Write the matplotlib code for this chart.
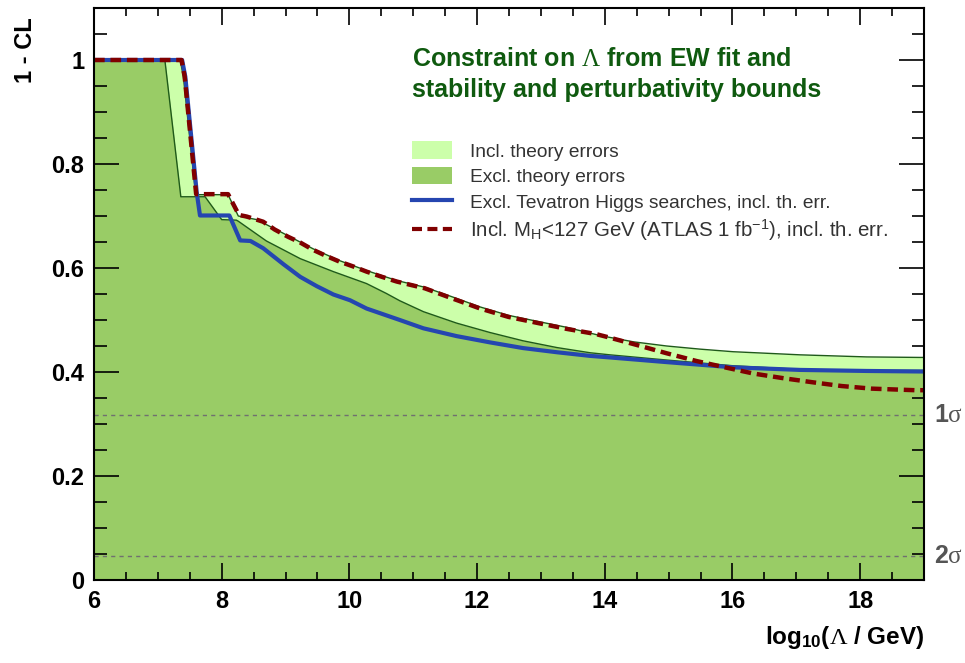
import numpy as np
import matplotlib
matplotlib.use('Agg')
import matplotlib.pyplot as plt
from matplotlib.patches import Patch
from matplotlib.lines import Line2D

plt.rcParams['font.family'] = ['Liberation Sans', 'DejaVu Sans']
plt.rcParams['mathtext.fontset'] = 'custom'
plt.rcParams['mathtext.rm'] = 'Liberation Serif'
plt.rcParams['mathtext.it'] = 'Liberation Serif:italic'
plt.rcParams['mathtext.bf'] = 'Liberation Serif:bold'

# --- data: x = log10(Lambda/GeV), y = 1 - CL ---
# incl. theory errors (light band upper edge)
x_incl = [6, 7.35, 7.40, 7.58, 7.62, 8.10, 8.26, 8.55, 9.04, 9.43, 9.85, 10.27,
          10.74, 11.18, 11.60, 12.05, 12.49, 12.96, 13.40, 13.93, 14.45, 14.97,
          15.49, 16.01, 16.54, 17.06, 17.58, 18.10, 18.94, 19]
y_incl = [1.0, 1.0, 0.968, 0.756, 0.741, 0.741, 0.700, 0.693, 0.662, 0.637, 0.614,
          0.595, 0.576, 0.563, 0.545, 0.525, 0.509, 0.497, 0.486, 0.470, 0.458,
          0.450, 0.444, 0.439, 0.436, 0.433, 0.431, 0.429, 0.428, 0.428]

# excl. theory errors (dark area upper edge)
x_excl = [6, 7.11, 7.36, 7.74, 8.0, 8.23, 8.26, 8.70, 9.23, 9.75, 10.27, 10.58,
          10.79, 11.16, 11.68, 12.20, 12.72, 13.25, 13.77, 14.08, 14.97, 16.01,
          17.06, 18.10, 18.94, 19]
y_excl = [1.0, 1.0, 0.737, 0.737, 0.693, 0.692, 0.690, 0.652, 0.618, 0.593, 0.570,
          0.551, 0.537, 0.516, 0.494, 0.476, 0.460, 0.447, 0.437, 0.433, 0.423,
          0.412, 0.405, 0.403, 0.403, 0.403]

# excl. Tevatron Higgs searches
x_tev = [6, 7.38, 7.43, 7.61, 7.66, 8.12, 8.29, 8.45, 8.65, 8.97, 9.23, 9.49, 9.75,
         10.01, 10.27, 10.53, 10.79, 11.16, 11.68, 12.20, 12.72, 13.25, 13.77,
         14.08, 14.97, 16.01, 17.06, 18.10, 18.94, 19]
y_tev = [1.0, 1.0, 0.968, 0.744, 0.701, 0.701, 0.653, 0.652, 0.638, 0.607, 0.583,
         0.565, 0.549, 0.538, 0.522, 0.511, 0.500, 0.484, 0.469, 0.457, 0.446,
         0.438, 0.431, 0.428, 0.419, 0.409, 0.404, 0.402, 0.401, 0.401]

# incl. MH < 127 GeV (ATLAS 1 fb-1)
x_atl = [6, 7.37, 7.42, 7.60, 8.10, 8.27, 8.39, 8.65, 8.83, 9.04, 9.23, 9.43, 9.64,
         9.85, 10.06, 10.27, 10.51, 10.74, 11.18, 11.60, 12.05, 12.49, 12.96, 13.40,
         13.86, 14.05, 14.50, 14.97, 15.44, 15.88, 16.33, 16.80, 17.27, 17.71,
         18.18, 18.86, 19]
y_atl = [1.0, 1.0, 0.968, 0.742, 0.742, 0.702, 0.699, 0.689, 0.674, 0.660, 0.649,
         0.635, 0.623, 0.612, 0.603, 0.593, 0.583, 0.574, 0.561, 0.542, 0.522,
         0.506, 0.494, 0.483, 0.473, 0.467, 0.452, 0.436, 0.421, 0.409, 0.397,
         0.388, 0.380, 0.373, 0.368, 0.365, 0.365]

sigma_levels = [0.3173, 0.0455]
sigma_labels = ['1$\\mathrm{\\sigma}$', '2$\\mathrm{\\sigma}$']

light = '#ccffaa'
dark = '#99cc66'
edge = '#1f5a1a'
blue = '#2546b0'
red = '#800000'

fig = plt.figure(figsize=(9.65, 6.63), dpi=100)
ax = fig.add_axes([94/965, 83/663, 830/965, 572/663])

ax.fill_between(x_incl, 0, y_incl, color=light, lw=0)
ax.plot(x_incl, y_incl, color=edge, lw=1)
ax.fill_between(x_excl, 0, y_excl, color=dark, lw=0)
ax.plot(x_excl, y_excl, color=edge, lw=1)

for lev, lab in zip(sigma_levels, sigma_labels):
    ax.axhline(lev, color='#707070', lw=1, dashes=(3, 3))
    ax.text(1.012, lev, lab, transform=ax.get_yaxis_transform(), color='#555555',
            fontsize=18, fontweight='bold', va='center', ha='left')

ax.plot(x_tev, y_tev, color=blue, lw=3)
ax.plot(x_atl, y_atl, color=red, lw=3.2, dashes=(2.4, 1.3))

ax.set_xlim(6, 19)
ax.set_ylim(0, 1.1)
ax.set_xticks(np.arange(6, 19, 2))
ax.set_xticks(np.arange(6, 19.01, 0.5), minor=True)
ax.set_yticks([0, 0.2, 0.4, 0.6, 0.8, 1.0])
ax.set_yticklabels(['0', '0.2', '0.4', '0.6', '0.8', '1'])
ax.set_yticks(np.arange(0, 1.101, 0.05), minor=True)
ax.tick_params(which='both', direction='in', top=True, right=True, width=1.2,
               labelsize=17, pad=7)
ax.tick_params(axis='x', which='major', length=12)
ax.tick_params(axis='x', which='minor', length=6)
ax.tick_params(axis='y', which='major', length=18)
ax.tick_params(axis='y', which='minor', length=9)
plt.setp(ax.get_xticklabels() + ax.get_yticklabels(), fontweight='bold')
for s in ax.spines.values():
    s.set_linewidth(1.5)

ax.set_xlabel('log$_\\mathregular{10}$($\\Lambda$ / GeV)', fontsize=17.5,
              fontweight='bold', loc='right', labelpad=8)
fig.text(25/965, 1 - 17/663, '1 - CL', rotation=90, fontsize=17,
         fontweight='bold', ha='center', va='top')

ax.text(0.383, 0.884, 'Constraint on $\\Lambda$ from EW fit and\nstability and perturbativity bounds',
        transform=ax.transAxes, color='#0f5a0f', fontsize=18, fontweight='bold',
        va='center', ha='left', linespacing=1.4)

handles = [Patch(facecolor=light, edgecolor='none'),
           Patch(facecolor=dark, edgecolor='none'),
           Line2D([], [], color=blue, lw=3),
           Line2D([], [], color=red, lw=3, dashes=(2.4, 1.3))]
labels = ['Incl. theory errors', 'Excl. theory errors',
          'Excl. Tevatron Higgs searches, incl. th. err.',
          'Incl. M$_\\mathregular{H}$<127 GeV (ATLAS 1 fb$^\\mathregular{-1}$), incl. th. err.']
leg = ax.legend(handles, labels, loc='upper left', bbox_to_anchor=(0.383, 0.767),
                frameon=False, fontsize=13.8, handlelength=2.1, handleheight=1.04,
                handletextpad=0.95, labelspacing=0.32, borderpad=0, borderaxespad=0)
for t in leg.get_texts():
    t.set_color('#333333')
leg.get_texts()[3].set_fontsize(14.8)

fig.savefig('out.png', dpi=100)
